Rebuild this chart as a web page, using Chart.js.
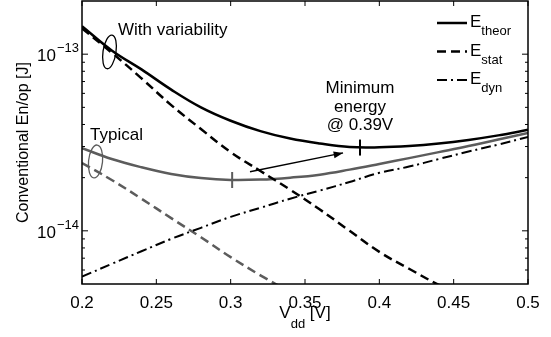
<!DOCTYPE html>
<html>
<head>
<meta charset="utf-8">
<script src="https://cdn.jsdelivr.net/npm/chart.js@4.4.0/dist/chart.umd.min.js"></script>
<style>
  body { margin: 0; background: #fff; }
  #wrap { width: 551px; height: 337px; }
</style>
</head>
<body>
<div id="wrap"><canvas id="energyChart"></canvas></div>
<script>
// supply voltage [V]
const vdd = [0.20, 0.22, 0.24, 0.26, 0.28, 0.30, 0.32, 0.34, 0.36, 0.38, 0.40, 0.42, 0.44, 0.46, 0.48, 0.50]

// energy per operation [J]
const theorVar = [1.44e-13, 1.05e-13, 8.2e-14, 6.3e-14, 5.0e-14, 4.2e-14, 3.67e-14, 3.33e-14, 3.12e-14, 2.98e-14, 2.97e-14, 3.02e-14, 3.12e-14, 3.27e-14, 3.47e-14, 3.73e-14]
const statVar = [1.40e-13, 1.02e-13, 7.3e-14, 5.15e-14, 3.77e-14, 2.79e-14, 2.18e-14, 1.71e-14, 1.32e-14, 1.0e-14, 7.6e-15, 6.1e-15, 4.95e-15, 4.2e-15, null, null]
const dynamic = [5.5e-15, 6.5e-15, 7.66e-15, 9.0e-15, 1.04e-14, 1.2e-14, 1.35e-14, 1.52e-14, 1.69e-14, 1.89e-14, 2.13e-14, 2.31e-14, 2.55e-14, 2.81e-14, 3.08e-14, 3.4e-14]
const theorTyp = [2.94e-14, 2.55e-14, 2.29e-14, 2.1e-14, 1.99e-14, 1.94e-14, 1.95e-14, 2.0e-14, 2.08e-14, 2.22e-14, 2.39e-14, 2.58e-14, 2.79e-14, 3.02e-14, 3.29e-14, 3.58e-14]
const statTyp = [2.42e-14, 1.94e-14, 1.52e-14, 1.18e-14, 9.2e-15, 7.1e-15, 5.6e-15, 4.5e-15, null, null, null, null, null, null, null, null]

// minimum-energy points (variability, typical)
const minVdd = [0.387, 0.301]
const minEnergy = [2.96e-14, 1.94e-14]

const xTicks = [0.2, 0.25, 0.3, 0.35, 0.4, 0.45, 0.5]
const yTicks = [1e-14, 1e-13]
const legendNames = [["E", "theor"], ["E", "stat"], ["E", "dyn"]]

const FONT = "'Liberation Sans', Arial, Helvetica, sans-serif"
const GRAY = "#5c5c5c"
const DASH = [9, 5]
const DASHDOT = [10, 4, 2, 4]

const points = vals => vdd.map((v, i) => ({ x: v, y: vals[i] }))

function line(vals, color, dash, width) {
  return {
    data: points(vals),
    borderColor: color,
    borderWidth: width,
    borderDash: dash,
    pointRadius: 0,
    tension: 0.4,
    spanGaps: false
  }
}

// annotations in data units
const notes = {
  varLabel: { x: 0.2242, y: 1.28e-13, text: "With variability" },
  typLabel: { x: 0.2054, y: 3.27e-14, text: "Typical" },
  minLabel: { x: 0.387, y: 6.0e-14, lines: ["Minimum", "energy", "@ 0.39V"] },
  varRing: { x: 0.2185, y: 1.03e-13, rx: 6.5, ry: 17, rot: 0.15, color: "#000" },
  typRing: { x: 0.2091, y: 2.47e-14, rx: 7, ry: 16.5, rot: 0.1, color: GRAY },
  arrow: { from: [0.313, 2.16e-14], to: [0.3756, 2.76e-14] }
}

const decorations = {
  id: "decorations",
  afterDatasetsDraw(chart) {
    const { ctx, chartArea: a, scales: { x, y } } = chart
    ctx.save()

    // frame + inward ticks
    ctx.strokeStyle = "#000"
    ctx.lineWidth = 1.5
    ctx.setLineDash([])
    ctx.strokeRect(a.left, a.top, a.right - a.left, a.bottom - a.top)
    ctx.lineWidth = 1
    ctx.beginPath()
    xTicks.forEach(v => {
      const px = x.getPixelForValue(v)
      ctx.moveTo(px, a.bottom); ctx.lineTo(px, a.bottom - 5)
      ctx.moveTo(px, a.top); ctx.lineTo(px, a.top + 5)
    })
    for (let e = -15; e <= -13; e++) {
      for (let m = 1; m <= 9; m++) {
        const v = m * Math.pow(10, e)
        if (v <= y.min * 1.001 || v >= y.max * 0.999) continue
        const py = y.getPixelForValue(v)
        const len = m === 1 ? 6 : 3
        ctx.moveTo(a.left, py); ctx.lineTo(a.left + len, py)
        ctx.moveTo(a.right, py); ctx.lineTo(a.right - len, py)
      }
    }
    ctx.stroke()

    // y tick labels 10^n
    ctx.fillStyle = "#000"
    ctx.textBaseline = "alphabetic"
    yTicks.forEach(v => {
      const py = y.getPixelForValue(v)
      ctx.font = `17px ${FONT}`
      ctx.textAlign = "right"
      ctx.fillText("10", a.left - 26, py + 7)
      ctx.font = `13px ${FONT}`
      ctx.textAlign = "left"
      ctx.fillText("\u2212" + Math.abs(Math.round(Math.log10(v))), a.left - 25, py - 2)
    })

    // x title V_dd [V]
    ctx.textAlign = "left"
    const big = `17px ${FONT}`, small = `13px ${FONT}`
    ctx.font = big
    const wV = ctx.measureText("V").width
    const wRest = ctx.measureText(" [V]").width
    ctx.font = small
    const wdd = ctx.measureText("dd").width
    let tx = (a.left + a.right) / 2 - (wV + wdd + wRest) / 2
    const tb = a.bottom + 34
    ctx.font = big; ctx.fillText("V", tx, tb); tx += wV
    ctx.font = small; ctx.fillText("dd", tx, tb + 10); tx += wdd
    ctx.font = big; ctx.fillText(" [V]", tx, tb)

    // legend
    const ds = chart.data.datasets
    legendNames.forEach((nm, i) => {
      const d = ds[i + 1]
      const ly = a.top + 22 + i * 28.5
      ctx.strokeStyle = d.borderColor
      ctx.lineWidth = d.borderWidth
      ctx.setLineDash(d.borderDash)
      ctx.beginPath()
      ctx.moveTo(a.right - 91, ly); ctx.lineTo(a.right - 61, ly)
      ctx.stroke()
      ctx.setLineDash([])
      ctx.font = big
      ctx.fillText(nm[0], a.right - 58, ly + 4)
      const we = ctx.measureText(nm[0]).width
      ctx.font = small
      ctx.fillText(nm[1], a.right - 58 + we, ly + 12)
    })

    // annotations
    ctx.font = big
    ctx.textAlign = "left"
    ;[notes.varLabel, notes.typLabel].forEach(n => {
      ctx.fillText(n.text, x.getPixelForValue(n.x), y.getPixelForValue(n.y))
    })
    ctx.textAlign = "center"
    const m = notes.minLabel
    m.lines.forEach((t, i) => {
      ctx.fillText(t, x.getPixelForValue(m.x), y.getPixelForValue(m.y) + i * 18.5)
    })

    ctx.lineWidth = 1.3
    ;[notes.varRing, notes.typRing].forEach(r => {
      ctx.strokeStyle = r.color
      ctx.beginPath()
      ctx.ellipse(x.getPixelForValue(r.x), y.getPixelForValue(r.y), r.rx, r.ry, r.rot, 0, Math.PI * 2)
      ctx.stroke()
    })

    const ar = notes.arrow
    const x0 = x.getPixelForValue(ar.from[0]), y0 = y.getPixelForValue(ar.from[1])
    const x1 = x.getPixelForValue(ar.to[0]), y1 = y.getPixelForValue(ar.to[1])
    const ang = Math.atan2(y1 - y0, x1 - x0)
    ctx.strokeStyle = "#000"
    ctx.fillStyle = "#000"
    ctx.lineWidth = 1.3
    ctx.beginPath()
    ctx.moveTo(x0, y0); ctx.lineTo(x1, y1)
    ctx.stroke()
    ctx.beginPath()
    ctx.moveTo(x1, y1)
    ctx.lineTo(x1 - 10 * Math.cos(ang - 0.35), y1 - 10 * Math.sin(ang - 0.35))
    ctx.lineTo(x1 - 10 * Math.cos(ang + 0.35), y1 - 10 * Math.sin(ang + 0.35))
    ctx.closePath()
    ctx.fill()

    ctx.restore()
  }
}

new Chart(document.getElementById("energyChart"), {
  type: "line",
  data: {
    datasets: [
      {
        data: minVdd.map((v, i) => ({ x: v, y: minEnergy[i] })),
        showLine: false,
        pointStyle: "line",
        rotation: 90,
        pointRadius: 8,
        borderWidth: 2,
        borderColor: ["#000", GRAY]
      },
      line(theorVar, "#000", [], 2.5),
      line(statVar, "#000", DASH, 2.5),
      line(dynamic, "#000", DASHDOT, 2),
      line(theorTyp, GRAY, [], 2.5),
      line(statTyp, GRAY, DASH, 2.5)
    ]
  },
  options: {
    responsive: true,
    maintainAspectRatio: false,
    animation: false,
    layout: { autoPadding: false, padding: { top: 1, right: 23, left: 0, bottom: 0 } },
    plugins: {
      legend: { display: false },
      tooltip: { enabled: false }
    },
    scales: {
      x: {
        type: "linear",
        min: 0.2,
        max: 0.5,
        afterBuildTicks: axis => { axis.ticks = xTicks.map(v => ({ value: v })) },
        afterFit: axis => {
          axis.height = 53
          axis.paddingTop = 0
          axis.paddingBottom = 0
        },
        grid: { display: false },
        border: { display: false },
        ticks: {
          color: "#000",
          font: { family: FONT, size: 17 },
          padding: 1,
          maxRotation: 0,
          callback: v => String(Math.round(v * 100) / 100)
        }
      },
      y: {
        type: "logarithmic",
        min: 5e-15,
        max: 2e-13,
        afterFit: axis => {
          axis.width = 82
          axis.paddingTop = 0
          axis.paddingBottom = 0
        },
        grid: { display: false },
        border: { display: false },
        ticks: { display: false },
        title: {
          display: true,
          text: "Conventional En/op [J]",
          color: "#000",
          font: { family: FONT, size: 16 },
          padding: { top: 14, bottom: 0 }
        }
      }
    }
  },
  plugins: [decorations]
})
</script>
</body>
</html>
